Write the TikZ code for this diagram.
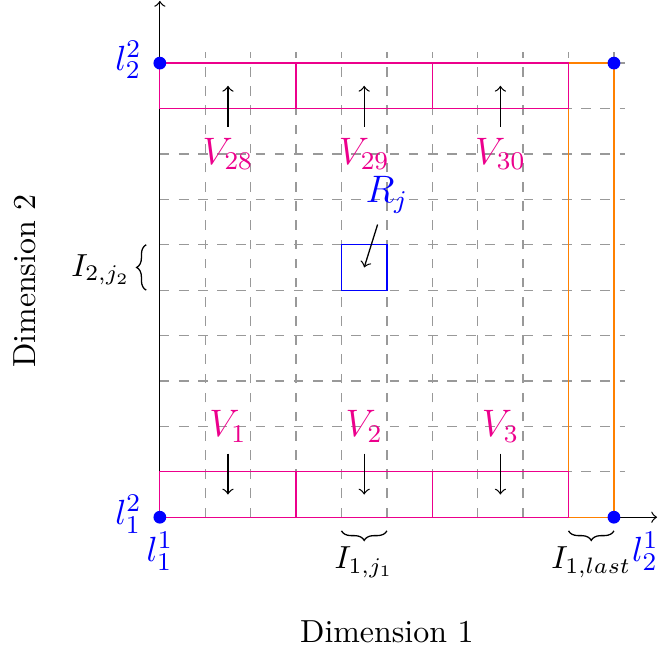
\documentclass[tikz,border=0pt]{standalone}
\usepackage{tikz}
\usetikzlibrary{decorations.pathreplacing, positioning}
\definecolor{vpink}{RGB}{236,0,140}

\begin{document}
\begin{tikzpicture}[x=0.5cm,y=0.5cm,
    vlabel/.style={font=\large, text=vpink},
    llabel/.style={font=\fontsize{11}{13}\selectfont, text=blue, inner sep=1pt},
    cell/.style={draw=vpink, minimum width=1.5cm, minimum height=0.5cm, inner sep=0pt},
    dot/.style={circle, fill=blue, inner sep=0pt, minimum size=4pt},
    brc/.style={decorate, decoration={brace, amplitude=3pt}}]
    \useasboundingbox (-3.52,-3.0) rectangle (10.97,11.39);
    % grid and axes
    \draw[gray!80, dashed, step=0.5cm] (0,0) grid (10.25,10.25);
    \coordinate (o) at (0,0);
    \coordinate (xend) at (10.95,0);
    \coordinate (yend) at (0,11.37);
    \draw[->] (o) -- (xend);
    \draw[->] (o) -- (yend);
    \draw[orange] (9,0) rectangle (10,10);
    % cells
    \node[cell] (c1) at (1.5,0.5) {};
    \node[cell] (c2) at (4.5,0.5) {};
    \node[cell] (c3) at (7.5,0.5) {};
    \node[cell] (c28) at (1.5,9.5) {};
    \node[cell] (c29) at (4.5,9.5) {};
    \node[cell] (c30) at (7.5,9.5) {};
    \node[vlabel] (v1) at (1.5,2) {$V_1$};
    \node[vlabel] (v2) at (4.5,2) {$V_2$};
    \node[vlabel] (v3) at (7.5,2) {$V_3$};
    \node[vlabel] (v28) at (1.5,8) {$V_{28}$};
    \node[vlabel] (v29) at (4.5,8) {$V_{29}$};
    \node[vlabel] (v30) at (7.5,8) {$V_{30}$};
    \draw[->] (v1) -- (c1.center);
    \draw[->] (v2) -- (c2.center);
    \draw[->] (v3) -- (c3.center);
    \draw[->] (v28) -- (c28.center);
    \draw[->] (v29) -- (c29.center);
    \draw[->] (v30) -- (c30.center);
    % region R_j
    \node[draw=blue, minimum size=0.5cm, inner sep=0pt] (rbox) at (4.5,5.5) {};
    \node[font=\large, text=blue] (rj) at (5,7.1) {$R_j$};
    \draw[->] (rj) -- (rbox.center);
    % corner points
    \node[dot] (p11) at (0,0) {};
    \node[dot] (p12) at (0,10) {};
    \node[dot] (p21) at (10,0) {};
    \node[dot] (p22) at (10,10) {};
    \node[llabel, left, xshift=-4.5pt, yshift=1pt] (l12) at (0,0) {$l_1^2$};
    \node[llabel, below, yshift=-3.5pt] (l11) at (0,0) {$l_1^1$};
    \node[llabel, left, xshift=-4.5pt, yshift=1pt] (l22) at (0,10) {$l_2^2$};
    \node[llabel, below right, xshift=4.5pt, yshift=-3.5pt] (l21) at (10,0) {$l_2^1$};
    % intervals
    \draw[brc] (-0.3,5) -- (-0.3,6);
    \draw[brc] (5,-0.3) -- (4,-0.3);
    \draw[brc] (10,-0.3) -- (9,-0.3);
    \node[anchor=east] (i2) at (-0.4,5.45) {$I_{2,j_2}$};
    \node (i1) at (4.5,-1.0) {$I_{1,j_1}$};
    \node (ilast) at (9.5,-1.0) {$I_{1,last}$};
    % axis titles
    \node (dim1) at (5,-2.53) {Dimension 1};
    \node[rotate=90] (dim2) at (-2.97,5.2) {Dimension 2};
\end{tikzpicture}
\end{document}
